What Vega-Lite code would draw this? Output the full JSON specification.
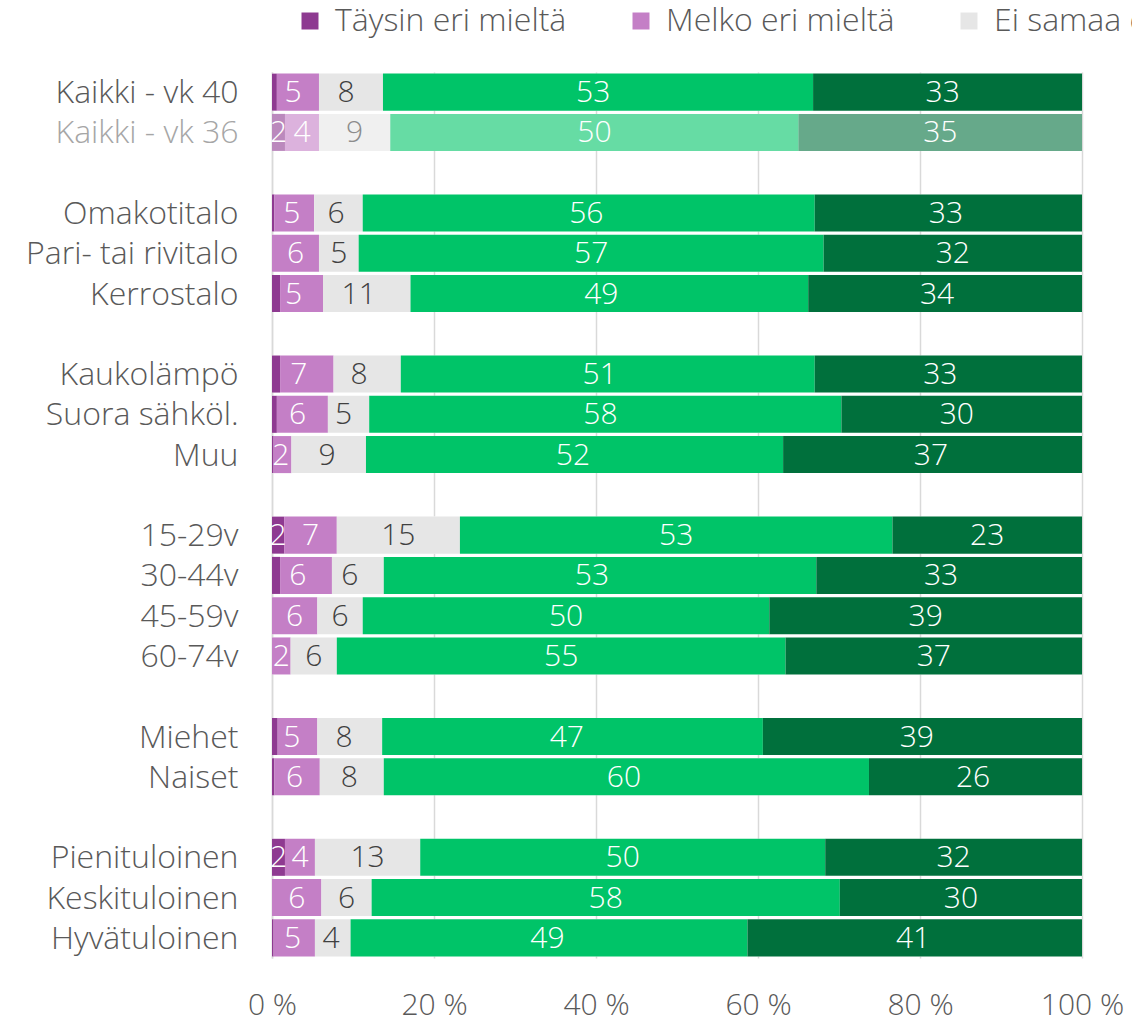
{
  "$schema": "https://vega.github.io/schema/vega-lite/v6.json",
  "autosize": {"type": "none"},
  "padding": {"left": 272, "top": 72, "right": 50, "bottom": 65},
  "width": 810,
  "height": 886,
  "background": "white",
  "config": {
    "view": {"stroke": null},
    "font": "Open Sans",
    "axis": {"labelFont": "Open Sans", "labelFontSize": 30, "labelFontWeight": 300, "labelColor": "#595959"},
    "legend": {"labelFont": "Open Sans", "labelFontWeight": 300}
  },
  "datasets": {
    "d": [
      {"c": "Kaikki - vk 40", "r": "Täysin eri mieltä", "k": 1, "f": 0, "v": 0.6},
      {"c": "Kaikki - vk 40", "r": "Melko eri mieltä", "k": 2, "f": 0, "v": 5.2},
      {"c": "Kaikki - vk 40", "r": "Ei samaa eikä eri mieltä", "k": 3, "f": 0, "v": 7.9},
      {"c": "Kaikki - vk 40", "r": "Melko samaa mieltä", "k": 4, "f": 0, "v": 53.1},
      {"c": "Kaikki - vk 40", "r": "Täysin samaa mieltä", "k": 5, "f": 0, "v": 33.2},
      {"c": "Kaikki - vk 36", "r": "Täysin eri mieltä", "k": 1, "f": 1, "v": 1.6},
      {"c": "Kaikki - vk 36", "r": "Melko eri mieltä", "k": 2, "f": 1, "v": 4.2},
      {"c": "Kaikki - vk 36", "r": "Ei samaa eikä eri mieltä", "k": 3, "f": 1, "v": 8.8},
      {"c": "Kaikki - vk 36", "r": "Melko samaa mieltä", "k": 4, "f": 1, "v": 50.4},
      {"c": "Kaikki - vk 36", "r": "Täysin samaa mieltä", "k": 5, "f": 1, "v": 35.0},
      {"c": "Omakotitalo", "r": "Täysin eri mieltä", "k": 1, "f": 0, "v": 0.3},
      {"c": "Omakotitalo", "r": "Melko eri mieltä", "k": 2, "f": 0, "v": 4.9},
      {"c": "Omakotitalo", "r": "Ei samaa eikä eri mieltä", "k": 3, "f": 0, "v": 6.0},
      {"c": "Omakotitalo", "r": "Melko samaa mieltä", "k": 4, "f": 0, "v": 55.8},
      {"c": "Omakotitalo", "r": "Täysin samaa mieltä", "k": 5, "f": 0, "v": 33.0},
      {"c": "Pari- tai rivitalo", "r": "Melko eri mieltä", "k": 2, "f": 0, "v": 5.8},
      {"c": "Pari- tai rivitalo", "r": "Ei samaa eikä eri mieltä", "k": 3, "f": 0, "v": 4.9},
      {"c": "Pari- tai rivitalo", "r": "Melko samaa mieltä", "k": 4, "f": 0, "v": 57.4},
      {"c": "Pari- tai rivitalo", "r": "Täysin samaa mieltä", "k": 5, "f": 0, "v": 31.9},
      {"c": "Kerrostalo", "r": "Täysin eri mieltä", "k": 1, "f": 0, "v": 1.0},
      {"c": "Kerrostalo", "r": "Melko eri mieltä", "k": 2, "f": 0, "v": 5.3},
      {"c": "Kerrostalo", "r": "Ei samaa eikä eri mieltä", "k": 3, "f": 0, "v": 10.8},
      {"c": "Kerrostalo", "r": "Melko samaa mieltä", "k": 4, "f": 0, "v": 49.1},
      {"c": "Kerrostalo", "r": "Täysin samaa mieltä", "k": 5, "f": 0, "v": 33.8},
      {"c": "Kaukolämpö", "r": "Täysin eri mieltä", "k": 1, "f": 0, "v": 1.0},
      {"c": "Kaukolämpö", "r": "Melko eri mieltä", "k": 2, "f": 0, "v": 6.6},
      {"c": "Kaukolämpö", "r": "Ei samaa eikä eri mieltä", "k": 3, "f": 0, "v": 8.3},
      {"c": "Kaukolämpö", "r": "Melko samaa mieltä", "k": 4, "f": 0, "v": 51.1},
      {"c": "Kaukolämpö", "r": "Täysin samaa mieltä", "k": 5, "f": 0, "v": 33.0},
      {"c": "Suora sähköl.", "r": "Täysin eri mieltä", "k": 1, "f": 0, "v": 0.6},
      {"c": "Suora sähköl.", "r": "Melko eri mieltä", "k": 2, "f": 0, "v": 6.3},
      {"c": "Suora sähköl.", "r": "Ei samaa eikä eri mieltä", "k": 3, "f": 0, "v": 5.1},
      {"c": "Suora sähköl.", "r": "Melko samaa mieltä", "k": 4, "f": 0, "v": 58.3},
      {"c": "Suora sähköl.", "r": "Täysin samaa mieltä", "k": 5, "f": 0, "v": 29.7},
      {"c": "Muu", "r": "Täysin eri mieltä", "k": 1, "f": 0, "v": 0.2},
      {"c": "Muu", "r": "Melko eri mieltä", "k": 2, "f": 0, "v": 2.2},
      {"c": "Muu", "r": "Ei samaa eikä eri mieltä", "k": 3, "f": 0, "v": 9.2},
      {"c": "Muu", "r": "Melko samaa mieltä", "k": 4, "f": 0, "v": 51.5},
      {"c": "Muu", "r": "Täysin samaa mieltä", "k": 5, "f": 0, "v": 36.9},
      {"c": "15-29v", "r": "Täysin eri mieltä", "k": 1, "f": 0, "v": 1.5},
      {"c": "15-29v", "r": "Melko eri mieltä", "k": 2, "f": 0, "v": 6.5},
      {"c": "15-29v", "r": "Ei samaa eikä eri mieltä", "k": 3, "f": 0, "v": 15.2},
      {"c": "15-29v", "r": "Melko samaa mieltä", "k": 4, "f": 0, "v": 53.4},
      {"c": "15-29v", "r": "Täysin samaa mieltä", "k": 5, "f": 0, "v": 23.4},
      {"c": "30-44v", "r": "Täysin eri mieltä", "k": 1, "f": 0, "v": 1.0},
      {"c": "30-44v", "r": "Melko eri mieltä", "k": 2, "f": 0, "v": 6.4},
      {"c": "30-44v", "r": "Ei samaa eikä eri mieltä", "k": 3, "f": 0, "v": 6.4},
      {"c": "30-44v", "r": "Melko samaa mieltä", "k": 4, "f": 0, "v": 53.4},
      {"c": "30-44v", "r": "Täysin samaa mieltä", "k": 5, "f": 0, "v": 32.8},
      {"c": "45-59v", "r": "Melko eri mieltä", "k": 2, "f": 0, "v": 5.6},
      {"c": "45-59v", "r": "Ei samaa eikä eri mieltä", "k": 3, "f": 0, "v": 5.6},
      {"c": "45-59v", "r": "Melko samaa mieltä", "k": 4, "f": 0, "v": 50.2},
      {"c": "45-59v", "r": "Täysin samaa mieltä", "k": 5, "f": 0, "v": 38.6},
      {"c": "60-74v", "r": "Melko eri mieltä", "k": 2, "f": 0, "v": 2.3},
      {"c": "60-74v", "r": "Ei samaa eikä eri mieltä", "k": 3, "f": 0, "v": 5.7},
      {"c": "60-74v", "r": "Melko samaa mieltä", "k": 4, "f": 0, "v": 55.4},
      {"c": "60-74v", "r": "Täysin samaa mieltä", "k": 5, "f": 0, "v": 36.6},
      {"c": "Miehet", "r": "Täysin eri mieltä", "k": 1, "f": 0, "v": 0.7},
      {"c": "Miehet", "r": "Melko eri mieltä", "k": 2, "f": 0, "v": 4.9},
      {"c": "Miehet", "r": "Ei samaa eikä eri mieltä", "k": 3, "f": 0, "v": 8.0},
      {"c": "Miehet", "r": "Melko samaa mieltä", "k": 4, "f": 0, "v": 47.0},
      {"c": "Miehet", "r": "Täysin samaa mieltä", "k": 5, "f": 0, "v": 39.4},
      {"c": "Naiset", "r": "Täysin eri mieltä", "k": 1, "f": 0, "v": 0.3},
      {"c": "Naiset", "r": "Melko eri mieltä", "k": 2, "f": 0, "v": 5.6},
      {"c": "Naiset", "r": "Ei samaa eikä eri mieltä", "k": 3, "f": 0, "v": 7.9},
      {"c": "Naiset", "r": "Melko samaa mieltä", "k": 4, "f": 0, "v": 59.9},
      {"c": "Naiset", "r": "Täysin samaa mieltä", "k": 5, "f": 0, "v": 26.3},
      {"c": "Pienituloinen", "r": "Täysin eri mieltä", "k": 1, "f": 0, "v": 1.6},
      {"c": "Pienituloinen", "r": "Melko eri mieltä", "k": 2, "f": 0, "v": 3.7},
      {"c": "Pienituloinen", "r": "Ei samaa eikä eri mieltä", "k": 3, "f": 0, "v": 13.0},
      {"c": "Pienituloinen", "r": "Melko samaa mieltä", "k": 4, "f": 0, "v": 50.0},
      {"c": "Pienituloinen", "r": "Täysin samaa mieltä", "k": 5, "f": 0, "v": 31.7},
      {"c": "Keskituloinen", "r": "Melko eri mieltä", "k": 2, "f": 0, "v": 6.1},
      {"c": "Keskituloinen", "r": "Ei samaa eikä eri mieltä", "k": 3, "f": 0, "v": 6.2},
      {"c": "Keskituloinen", "r": "Melko samaa mieltä", "k": 4, "f": 0, "v": 57.8},
      {"c": "Keskituloinen", "r": "Täysin samaa mieltä", "k": 5, "f": 0, "v": 29.9},
      {"c": "Hyvätuloinen", "r": "Täysin eri mieltä", "k": 1, "f": 0, "v": 0.2},
      {"c": "Hyvätuloinen", "r": "Melko eri mieltä", "k": 2, "f": 0, "v": 5.1},
      {"c": "Hyvätuloinen", "r": "Ei samaa eikä eri mieltä", "k": 3, "f": 0, "v": 4.4},
      {"c": "Hyvätuloinen", "r": "Melko samaa mieltä", "k": 4, "f": 0, "v": 49.0},
      {"c": "Hyvätuloinen", "r": "Täysin samaa mieltä", "k": 5, "f": 0, "v": 41.3}
    ]
  },
  "data": {"name": "d"},
  "encoding": {
    "y": {
      "field": "c",
      "type": "nominal",
      "scale": {
        "domain": ["Kaikki - vk 40", "Kaikki - vk 36", "_1", "Omakotitalo", "Pari- tai rivitalo", "Kerrostalo", "_2", "Kaukolämpö", "Suora sähköl.", "Muu", "_3", "15-29v", "30-44v", "45-59v", "60-74v", "_4", "Miehet", "Naiset", "_5", "Pienituloinen", "Keskituloinen", "Hyvätuloinen"],
        "paddingInner": 0.08,
        "paddingOuter": 0.04
      },
      "axis": {
        "title": null,
        "ticks": false,
        "domain": true,
        "domainColor": "#d9d9d9",
        "domainWidth": 1.5,
        "labelPadding": 34,
        "labelOffset": 1,
        "labelFontSize": 32,
        "labelLimit": 0,
        "labelExpr": "indexof(datum.label, '_') == 0 ? '' : datum.label",
        "labelColor": {"condition": {"test": "datum.value == 'Kaikki - vk 36'", "value": "#a6a6a6"}, "value": "#595959"}
      }
    }
  },
  "layer": [
    {
      "mark": {"type": "bar", "color": "white"},
      "encoding": {
        "x": {
          "aggregate": "sum",
          "field": "v",
          "type": "quantitative",
          "scale": {"domain": [0, 100], "nice": false},
          "axis": {
            "title": null,
            "values": [0, 20, 40, 60, 80, 100],
            "labelExpr": "datum.value + ' %'",
            "grid": true,
            "gridColor": "#d9d9d9",
            "gridWidth": 1.5,
            "domain": false,
            "ticks": false,
            "labelPadding": 32,
            "labelFlush": false
          }
        }
      }
    },
    {
      "mark": {"type": "bar"},
      "encoding": {
        "x": {"field": "v", "type": "quantitative", "stack": "zero"},
        "order": {"field": "k", "type": "quantitative"},
        "color": {
          "field": "r",
          "type": "nominal",
          "scale": {
            "domain": ["Täysin eri mieltä", "Melko eri mieltä", "Ei samaa eikä eri mieltä", "Melko samaa mieltä", "Täysin samaa mieltä"],
            "range": ["#8e3a91", "#c47fc6", "#e6e6e6", "#00c468", "#00703c"]
          },
          "legend": {
            "title": null,
            "orient": "none",
            "direction": "horizontal",
            "legendX": 22,
            "legendY": -67,
            "padding": 0,
            "symbolType": "square",
            "symbolSize": 289,
            "symbolStrokeWidth": 0,
            "labelFontSize": 32,
            "labelColor": "#595959",
            "labelOffset": 9,
            "columnPadding": 58,
            "labelLimit": 0
          }
        },
        "opacity": {"condition": {"test": "datum.f == 1", "value": 0.6}, "value": 1}
      }
    },
    {
      "transform": [{"filter": "datum.v >= 1.5"}],
      "mark": {"type": "text", "fontSize": 30, "font": "Open Sans", "fontWeight": 300, "baseline": "middle", "align": "center", "dy": 1},
      "encoding": {
        "x": {"field": "v", "type": "quantitative", "stack": "zero", "bandPosition": 0.5},
        "order": {"field": "k", "type": "quantitative"},
        "detail": {"field": "k", "type": "quantitative"},
        "text": {"field": "v", "type": "quantitative", "format": ".0f"},
        "color": {
          "condition": [
            {"test": "datum.k == 3 && datum.f == 1", "value": "#8c8c8c"},
            {"test": "datum.k == 3", "value": "#404040"}
          ],
          "value": "white"
        }
      }
    }
  ]
}
